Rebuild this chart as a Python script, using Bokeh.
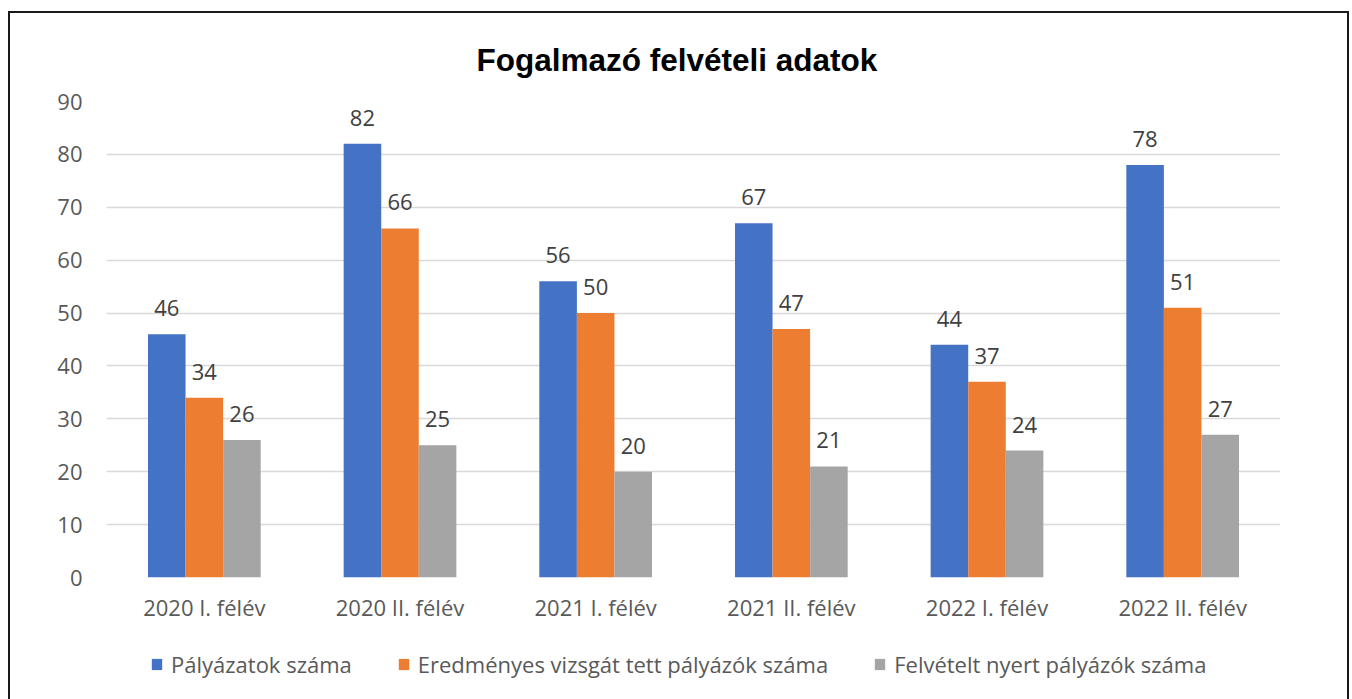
from bokeh.plotting import figure
from bokeh.layouts import column
from bokeh.models import ColumnDataSource, FactorRange, Range1d, Legend, LegendItem, FixedTicker
from bokeh.transform import dodge
from bokeh.embed import file_html
from bokeh.resources import INLINE
from bokeh.core.properties import value

categories = ["2020 I. félév", "2020 II. félév", "2021 I. félév", "2021 II. félév", "2022 I. félév", "2022 II. félév"]
palyazatok = [46, 82, 56, 67, 44, 78]
eredmenyes = [34, 66, 50, 47, 37, 51]
felvetelt = [26, 25, 20, 21, 24, 27]
series_names = ["Pályázatok száma", "Eredményes vizsgát tett pályázók száma", "Felvételt nyert pályázók száma"]
colors = ["#4472C4", "#ED7D31", "#A5A5A5"]
y_ticks = [0, 10, 20, 30, 40, 50, 60, 70, 80, 90]

src = ColumnDataSource(dict(cat=categories, a=palyazatok, b=eredmenyes, c=felvetelt,
                            la=[str(v) for v in palyazatok], lb=[str(v) for v in eredmenyes],
                            lc=[str(v) for v in felvetelt]))

FONT = "Open Sans"
BORDER = "2px solid #1a1a1a"
p = figure(x_range=FactorRange(*categories, range_padding=0), y_range=Range1d(0, 90),
           width=1341, height=629, output_backend="svg", toolbar_location=None,
           min_border_left=96, min_border_right=71, min_border_top=88, min_border_bottom=65)
p.styles = {"border-top": BORDER, "border-left": BORDER, "border-right": BORDER}
p.outline_line_color = None
p.title.text = "Fogalmazó felvételi adatok"
p.title.text_font = "Liberation Sans"
p.title.text_font_size = "31.5px"
p.title.text_font_style = "bold"
p.title.align = "left"
p.title.text_color = "#000000"
p.title.offset = 370
p.title.standoff = 47

w = 0.192
offsets = [-w, 0, w]
keys = ["a", "b", "c"]
lkeys = ["la", "lb", "lc"]
renderers = []
for k, lk, off, col in zip(keys, lkeys, offsets, colors):
    r = p.vbar(x=dodge("cat", off, range=p.x_range), top=k, width=w, source=src,
               fill_color=col, line_color=None)
    renderers.append(r)
    p.text(x=dodge("cat", off, range=p.x_range), y=k, text=lk, source=src,
           text_align="center", text_baseline="alphabetic", y_offset=-26,
           text_font=value(FONT), text_font_size="22px", text_color="#404040")

p.xgrid.grid_line_color = None
p.ygrid.grid_line_color = "#D9D9D9"
p.ygrid.grid_line_width = 1.5
p.yaxis.ticker = FixedTicker(ticks=y_ticks)
for ax in (p.xaxis, p.yaxis):
    ax.axis_line_color = None
    ax.major_tick_line_color = None
    ax.minor_tick_line_color = None
    ax.major_label_text_font = FONT
    ax.major_label_text_font_size = "22px"
    ax.major_label_text_color = "#595959"
p.yaxis.major_label_standoff = 18
p.xaxis.major_label_standoff = 8

# legend strip below the chart (swatch renderers lie outside the visible range)
p2 = figure(width=1341, height=60, output_backend="svg", toolbar_location=None,
            x_range=Range1d(0, 1), y_range=Range1d(0, 1),
            min_border_left=0, min_border_right=0, min_border_top=0, min_border_bottom=0)
p2.styles = {"border-left": BORDER, "border-right": BORDER}
p2.axis.visible = False
p2.grid.visible = False
p2.outline_line_color = None
swatches = [p2.vbar(x=[-5], top=[0], width=0.1, fill_color=c, line_color=None) for c in colors]

legend = Legend(items=[LegendItem(label=n, renderers=[r]) for n, r in zip(series_names, swatches)],
                orientation="horizontal", location=(44, 21),
                label_text_font=FONT, label_text_font_size="22px", label_text_color="#595959",
                glyph_width=13, glyph_height=14, spacing=45, label_standoff=8,
                padding=0, margin=0, border_line_color=None, background_fill_alpha=0)
p2.add_layout(legend)

layout = column(p, p2, spacing=0, margin=(11, 0, 0, 8))
open("out.html", "w").write(file_html(layout, INLINE))
